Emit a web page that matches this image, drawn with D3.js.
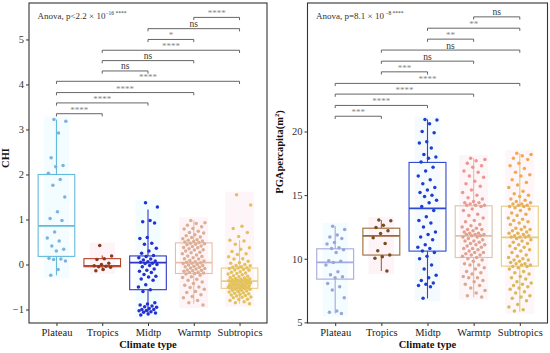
<!DOCTYPE html>
<html><head><meta charset="utf-8">
<script src="https://cdn.jsdelivr.net/npm/d3@7"></script>
<style>body{margin:0;background:#fff}text{font-family:"Liberation Serif","Times New Roman",serif}</style>
</head><body>
<svg id="c" width="550" height="353"></svg>
<script>
// ---------- DATA ----------
const categories = ["Plateau", "Tropics", "Midtp", "Warmtp", "Subtropics"];

// CHI (left panel)
const chiPlateau = [3.22, 3.18, 2.92, 2.37, 2.2, 2.17, 2.03, 1.89, 1.76, 1.5, 1.17, 1.02, 0.98, 0.72, 0.59, 0.52, 0.41, 0.34, 0.3, 0.14, 0.12, 0.11, 0.08, -0.11, -0.24];
const chiTropics = [0.42, 0.19, 0.13, 0.11, 0.03, 0.0, -0.03, -0.04, -0.05, -0.06, -0.11, -0.14];
const chiMidtp = [1.37, 1.28, 0.98, 0.95, 0.92, 0.6, 0.58, 0.47, 0.45, 0.36, 0.3, 0.25, 0.2, 0.18, 0.15, 0.12, 0.1, 0.08, 0.06, 0.05, 0.03, 0.02, 0.0, -0.02, -0.05, -0.1, -0.13, -0.15, -0.18, -0.22, -0.26, -0.28, -0.32, -0.35, -0.45, -0.5, -0.56, -0.6, -0.85, -0.88, -0.9, -0.92, -0.94, -0.95, -0.98, -1.0, -1.0, -1.02, -1.03, -1.05, -1.06, -1.08, -1.1, -1.12];
const chiWarmtp = [0.98, 0.93, 0.91, 0.87, 0.84, 0.8, 0.79, 0.74, 0.71, 0.7, 0.66, 0.64, 0.61, 0.6, 0.57, 0.55, 0.54, 0.52, 0.51, 0.5, 0.49, 0.47, 0.46, 0.45,
  0.44, 0.41, 0.4, 0.38, 0.37, 0.35, 0.33, 0.32, 0.3, 0.27, 0.26, 0.24, 0.21, 0.19, 0.18, 0.15, 0.13, 0.12, 0.09, 0.08, 0.06, 0.05, 0.04,
  0.03, 0.02, 0.0, -0.01, -0.02, -0.04, -0.05, -0.06, -0.08, -0.09, -0.1, -0.12, -0.13, -0.14, -0.15, -0.17, -0.18, -0.19, -0.2, -0.21,
  -0.24, -0.27, -0.29, -0.33, -0.35, -0.39, -0.42, -0.46, -0.5, -0.51, -0.55, -0.6, -0.62, -0.67, -0.71, -0.74, -0.8, -0.85, -0.9];
const chiSubtropics = [1.55, 1.32, 0.85, 0.8, 0.71, 0.62, 0.54, 0.52, 0.45, 0.37, 0.34, 0.29, 0.24, 0.22, 0.17, 0.13, 0.12, 0.07, 0.04, 0.03, 0.0, -0.02, -0.03, -0.05, -0.06, -0.07, -0.08,
  -0.09, -0.11, -0.12, -0.13, -0.16, -0.17, -0.19, -0.2, -0.21, -0.23, -0.25, -0.26, -0.27, -0.29, -0.3, -0.31, -0.32, -0.33, -0.34, -0.34, -0.35, -0.36, -0.36, -0.37,
  -0.38, -0.38, -0.39, -0.4, -0.41, -0.41, -0.42, -0.43, -0.43, -0.44, -0.45, -0.46, -0.46, -0.47, -0.48, -0.48, -0.49, -0.5, -0.5, -0.51, -0.52, -0.52, -0.53, -0.53,
  -0.54, -0.55, -0.55, -0.57, -0.58, -0.59, -0.6, -0.61, -0.63, -0.64, -0.65, -0.66, -0.68, -0.69, -0.7, -0.72, -0.73, -0.74, -0.77, -0.78, -0.8, -0.83, -0.85, -0.87];
const chiLow = [-0.24, -0.14, -1.12, -0.87, -0.87];
const chiQ1 = [0.18, -0.05, -0.56, -0.2, -0.53];
const chiMed = [0.86, -0.03, 0.04, 0.04, -0.37];
const chiQ3 = [2.0, 0.13, 0.19, 0.48, -0.08];
const chiHigh = [3.22, 0.2, 1.22, 0.98, 0.54];
const chiTicks = [-1, 0, 1, 2, 3, 4, 5];
const chiSig = ["****", "****", "****", "****", "ns", "ns", "****", "*", "ns", "****"];
const chiBracketY = [3.35, 3.59, 3.82, 4.07, 4.3, 4.53, 4.76, 5.0, 5.24, 5.49];

// PGA per capita (right panel)
const pgaPlateau = [12.56, 12.3, 11.86, 11.7, 11.6, 11.28, 11.15, 10.86, 10.8, 10.7, 10.5, 9.84, 9.8, 9.7, 9.5, 8.97, 8.75, 8.58, 8.5, 8.06, 7.8, 7.55, 6.93, 5.9, 5.8, 5.7];
const pgaTropics = [13.04, 12.98, 12.64, 12.46, 12.2, 11.99, 11.65, 11.2, 10.62, 10.29, 10.15, 10.03, 9.03];
const pgaMidtp = [20.95, 20.9, 20.6, 20.0, 19.9, 19.2, 19.1, 18.7, 18.2, 18.0, 17.9, 17.6, 17.2, 16.9, 16.5, 16.2, 15.9, 15.6, 15.4, 15.2, 15.0, 14.9, 14.6, 14.4, 14.1, 13.8, 13.3, 13.0, 12.8, 12.5, 12.1, 11.9, 11.7, 11.5, 11.1, 10.9, 10.8, 10.6, 10.5, 10.2, 10.0, 9.5, 9.2, 8.7, 8.5, 8.3, 8.1, 8.0, 7.9, 7.8, 6.9];
const pgaWarmtp = [17.9, 17.8, 17.7, 17.5, 17.3, 17.2, 16.9, 16.8, 16.5, 16.4, 16.1, 15.9, 15.7, 15.4, 15.2, 15.0, 14.8, 14.7, 14.5, 14.4, 14.4, 14.3, 14.2, 14.2, 14.2,
  14.1, 13.9, 13.8, 13.5, 13.4, 13.2, 13.0, 12.9, 12.7, 12.6, 12.5, 12.4, 12.3, 12.3, 12.2, 12.1, 12.0, 12.0, 11.9, 11.9, 11.9, 11.8, 11.8,
  11.7, 11.7, 11.6, 11.5, 11.4, 11.4, 11.3, 11.2, 11.1, 11.1, 11.0, 10.9, 10.8, 10.8, 10.7, 10.6, 10.5, 10.5, 10.4, 10.3, 10.3, 10.2, 10.1,
  10.0, 9.9, 9.8, 9.6, 9.5, 9.5, 9.3, 9.2, 9.0, 8.9, 8.8, 8.6, 8.5, 8.5, 8.3, 8.2, 8.0, 7.9, 7.7, 7.5, 7.3, 7.1, 7.0];
const pgaSubtropics = [18.3, 18.2, 18.1, 17.9, 17.8, 17.5, 17.3, 17.1, 16.8, 16.6, 16.5, 16.2, 16.0, 15.8, 15.6, 15.3, 15.1, 15.0, 14.9, 14.7, 14.6, 14.5, 14.4, 14.3, 14.3, 14.2, 14.2, 14.1, 14.1,
  14.0, 13.9, 13.8, 13.6, 13.5, 13.4, 13.2, 13.1, 13.0, 12.9, 12.8, 12.7, 12.5, 12.4, 12.3, 12.3, 12.2, 12.1, 12.0, 12.0, 11.9, 11.8, 11.8, 11.7, 11.7, 11.7,
  11.6, 11.5, 11.4, 11.3, 11.2, 11.1, 11.0, 10.9, 10.8, 10.7, 10.6, 10.5, 10.3, 10.2, 10.1, 10.0, 9.9, 9.9, 9.8, 9.7, 9.6, 9.6, 9.5, 9.5, 9.4, 9.4,
  9.3, 9.2, 9.0, 8.9, 8.8, 8.6, 8.5, 8.4, 8.2, 8.1, 8.0, 7.9, 7.8, 7.7, 7.6, 7.4, 7.3, 7.1, 7.0, 6.9, 6.7, 6.4, 6.2, 6.0, 5.9];
const pgaLow = [5.7, 9.03, 6.88, 7.0, 5.83];
const pgaQ1 = [8.4, 10.29, 10.6, 10.1, 9.42];
const pgaMed = [9.71, 11.8, 13.96, 11.8, 11.68];
const pgaQ3 = [10.78, 12.4, 17.57, 14.16, 14.13];
const pgaHigh = [12.56, 13.04, 20.95, 17.9, 18.3];
const pgaTicks = [5, 10, 15, 20];
const pgaSig = ["***", "****", "****", "****", "***", "ns", "ns", "**", "**", "ns"];
const pgaBracketY = [21.2, 22.05, 22.94, 23.78, 24.69, 25.53, 26.4, 27.26, 28.12, 29.01];

const pairs = [[0,1],[0,2],[0,3],[0,4],[1,2],[1,3],[1,4],[2,3],[2,4],[3,4]];

// ---------- DRAW ----------
const svg = d3.select("#c");

function jit(i) { return ((i * 0.6180339887 + 0.37) % 1) - 0.5; }

function panel(o) {
  const x = d3.scalePoint().domain(categories).range([o.x0, o.x1]).padding(0.6);
  const y = d3.scaleLinear().domain(o.domain).range([o.y1, o.y0]);
  const step = x.step();
  const bw = step * 0.8;
  const g = svg.append("g");
  const jwOf = k => step * (o.groups[k].length > 60 ? 0.5 : 0.42);

  // faint background shading behind groups
  o.groups.forEach((vals, k) => {
    const cx = x(categories[k]), jw = jwOf(k);
    const ext = d3.extent(vals);
    g.append("rect").attr("x", cx - jw/2 - 3).attr("width", jw + 6)
      .attr("y", y(ext[1]) - 3).attr("height", y(ext[0]) - y(ext[1]) + 6)
      .attr("fill", o.bg[k]).attr("opacity", 0.3);
  });

  // boxes
  categories.forEach((c, k) => {
    const cx = x(c), col = o.boxCol[k];
    g.append("line").attr("x1", cx).attr("x2", cx).attr("y1", y(o.high[k])).attr("y2", y(o.q3[k])).attr("stroke", col).attr("stroke-width", 1.1);
    g.append("line").attr("x1", cx).attr("x2", cx).attr("y1", y(o.q1[k])).attr("y2", y(o.low[k])).attr("stroke", col).attr("stroke-width", 1.1);
    g.append("rect").attr("x", cx - bw/2).attr("width", bw).attr("y", y(o.q3[k])).attr("height", y(o.q1[k]) - y(o.q3[k]))
      .attr("fill", "none").attr("stroke", col).attr("stroke-width", 1.1);
    g.append("line").attr("x1", cx - bw/2).attr("x2", cx + bw/2).attr("y1", y(o.med[k])).attr("y2", y(o.med[k])).attr("stroke", col).attr("stroke-width", 1.8);
  });

  // points
  o.groups.forEach((vals, k) => {
    const cx = x(categories[k]), jw = jwOf(k);
    const ext = d3.extent(vals);
    g.selectAll(null).data(vals).join("circle")
      .attr("cx", (d, i) => cx + jit(i) * jw)
      .attr("cy", d => y(d))
      .attr("r", 1.75)
      .attr("fill", d => o.ptCol[k].length === 2 ? d3.interpolateRgb(o.ptCol[k][0], o.ptCol[k][1])((d - ext[0]) / (ext[1] - ext[0])) : o.ptCol[k]);
  });

  // brackets
  pairs.forEach((p, i) => {
    const xa = x(categories[p[0]]), xb = x(categories[p[1]]), yy = y(o.bracketY[i]);
    g.append("path").attr("d", `M${xa},${yy + 2.7}V${yy}H${xb}V${yy + 2.7}`)
      .attr("fill", "none").attr("stroke", "#555").attr("stroke-width", 0.9);
    const lab = o.sig[i];
    const isNs = lab === "ns";
    g.append("text").attr("x", (xa + xb) / 2).attr("y", isNs ? yy - 1.5 : yy - 1)
      .attr("text-anchor", "middle").attr("font-size", isNs ? 9.5 : 9)
      .attr("fill", isNs ? "#333" : "#888").text(lab);
  });

  // axes
  const ya = g.append("g").attr("transform", `translate(${o.x0},0)`).call(d3.axisLeft(y).tickValues(o.ticks).tickSize(3).tickPadding(2));
  ya.select(".domain").remove();
  ya.selectAll("text").attr("font-size", 10.5).attr("fill", "#333").style("font-family", "Liberation Serif");
  ya.selectAll("line").attr("stroke", "#333");
  const xa = g.append("g").attr("transform", `translate(0,${o.y1})`).call(d3.axisBottom(x).tickSize(3).tickPadding(3));
  xa.select(".domain").remove();
  xa.selectAll("text").attr("font-size", 10.5).attr("fill", "#222").style("font-family", "Liberation Serif");
  xa.selectAll("line").attr("stroke", "#333");

  // border
  g.append("rect").attr("x", o.x0).attr("y", o.y0).attr("width", o.x1 - o.x0).attr("height", o.y1 - o.y0)
    .attr("fill", "none").attr("stroke", "#333").attr("stroke-width", 1.1);

  // titles
  g.append("text").attr("x", (o.x0 + o.x1) / 2).attr("y", 348).attr("text-anchor", "middle")
    .attr("font-size", 10.5).attr("font-weight", "bold").attr("fill", "#111").text("Climate type");
  const yl = g.append("text").attr("transform", `translate(${o.ylX},${o.ylY}) rotate(-90)`).attr("text-anchor", "middle")
    .attr("font-size", 10.5).attr("font-weight", "bold").attr("fill", "#111");
  o.ylabel(yl);

  const an = g.append("text").attr("x", o.x0 + 8.5).attr("y", 18.5).attr("font-size", 9).attr("fill", "#333");
  o.anova(an);
}

panel({
  x0: 29, x1: 267, y0: 3, y1: 323, domain: [-1.30, 5.81], ticks: chiTicks,
  groups: [chiPlateau, chiTropics, chiMidtp, chiWarmtp, chiSubtropics],
  low: chiLow, q1: chiQ1, med: chiMed, q3: chiQ3, high: chiHigh,
  boxCol: ["#62bcdc", "#b8452c", "#2e36c8", "#ecbcaa", "#efcb80"],
  ptCol: ["#7fb1dd", "#8a3a1c", "#2430cf", "#dcae93", "#e3c25c"],
  bg: ["#d6f4fb", "#fcd6e4", "#d6f4fb", "#fcdbe8", "#fcdde8"],
  sig: chiSig, bracketY: chiBracketY,
  ylX: 9, ylY: 158,
  ylabel: t => t.text("CHI"),
  anova: t => { t.append("tspan").text("Anova, p<2.2 × 10"); t.append("tspan").attr("font-size", 5.5).attr("dy", -3.5).text("−16 ****"); }
});

panel({
  x0: 307.5, x1: 547.5, y0: 3, y1: 323, domain: [4.95, 30.1], ticks: pgaTicks,
  groups: [pgaPlateau, pgaTropics, pgaMidtp, pgaWarmtp, pgaSubtropics],
  low: pgaLow, q1: pgaQ1, med: pgaMed, q3: pgaQ3, high: pgaHigh,
  boxCol: ["#a3aadf", "#9a6a36", "#2f4ad2", "#dcc2aa", "#e4cd7e"],
  ptCol: ["#9ca4dd", "#7a4a1e", "#1f3dcf", ["#d8ab8f", "#ef9490"], ["#cfc05a", "#f8a456"]],
  bg: ["#d8f4fb", "#fcd6e4", "#dcf0fb", "#fcdde8", "#fce0e8"],
  sig: pgaSig, bracketY: pgaBracketY,
  ylX: 283, ylY: 152,
  ylabel: t => { t.append("tspan").text("PGApercapita(m"); t.append("tspan").attr("font-size", 6.5).attr("dy", -4).text("2"); t.append("tspan").attr("dy", 4).text(")"); },
  anova: t => { t.append("tspan").text("Anova, p=8.1 × 10"); t.append("tspan").attr("font-size", 5.5).attr("dy", -3.5).text(" −8 ****"); }
});
</script>
</body></html>
